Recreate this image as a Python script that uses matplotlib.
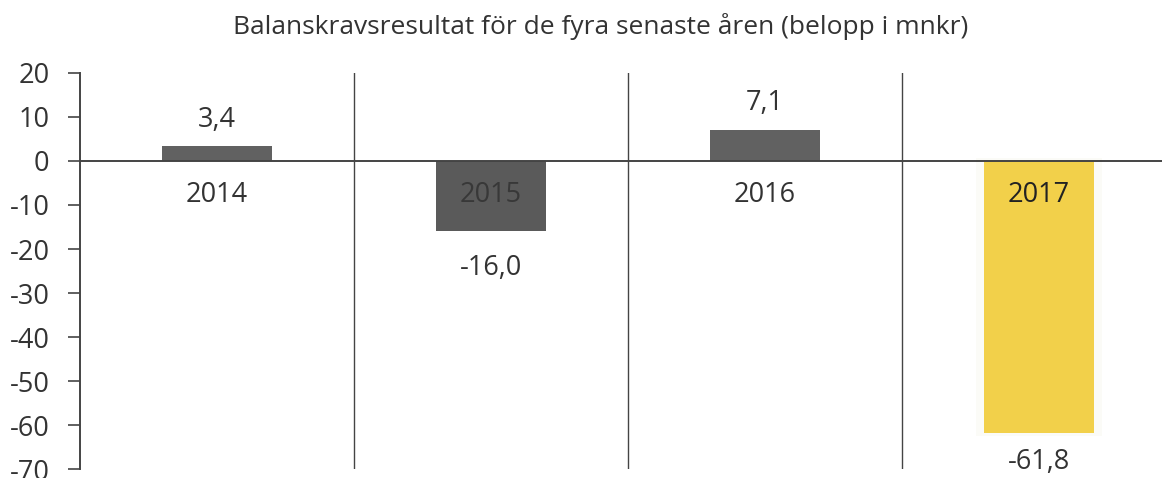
import matplotlib
matplotlib.use("Agg")
import matplotlib.pyplot as plt

years = ["2014", "2015", "2016", "2017"]
values = [3.4, -16.0, 7.1, -61.8]
value_labels = ["3,4", "-16,0", "7,1", "-61,8"]
bar_colors = ["#616161", "#5a5a5a", "#616161", "#f2d04a"]
year_colors = ["#333333", "#383838", "#333333", "#222222"]
yticks = [20, 10, 0, -10, -20, -30, -40, -50, -60, -70]
title = "Balanskravsresultat för de fyra senaste åren (belopp i mnkr)"

plt.rcParams['font.family'] = ['Open Sans', 'DejaVu Sans']
txt = "#333333"
line = "#444444"
fs = 19.5

fig = plt.figure(figsize=(11.62, 4.78), dpi=100)
ax = fig.add_axes([80/1162, 9/478, 1 - 80/1162, (469-73)/478])
ax.set_xlim(-0.5, 3.45)
ax.set_ylim(-70, 20)

x = list(range(len(years)))
# faint halo around highlighted bar
ax.bar(x[3], values[3] - 1.2, bottom=0.6, width=0.46, color="#fbfbf7", zorder=1)
ax.bar(x, values, width=0.4, color=bar_colors, zorder=2)

ax.axhline(0, color=line, lw=1.4, zorder=3)
for sep in [0.5, 1.5, 2.5]:
    ax.axvline(sep, color=line, lw=1.0, zorder=0)

neg_offsets = {1: -26, 3: -21}
for xi, v, lab, yr, yc in zip(x, values, value_labels, years, year_colors):
    ax.text(xi, -7.8, yr, ha="center", va="center", fontsize=fs, color=yc, zorder=4)
    if v >= 0:
        ax.annotate(lab, (xi, v), xytext=(0, 19), textcoords="offset points",
                    ha="center", va="center", fontsize=fs, color=txt)
    else:
        ax.annotate(lab, (xi, v), xytext=(0, neg_offsets[xi]), textcoords="offset points",
                    ha="center", va="center", fontsize=fs, color=txt)

ax.set_yticks(yticks)
ax.set_yticklabels([str(t) for t in yticks], fontsize=fs, color=txt)
ax.set_xticks([])
ax.tick_params(axis="y", length=9, width=1.2, color=line, pad=13)
for s in ["top", "right", "bottom"]:
    ax.spines[s].set_visible(False)
ax.spines["left"].set_color(line)
ax.spines["left"].set_linewidth(1.4)

fig.text(601/1162, 1 - 27/478, title, ha="center", va="center", fontsize=19, color=txt)

fig.savefig("out.png", dpi=100)
